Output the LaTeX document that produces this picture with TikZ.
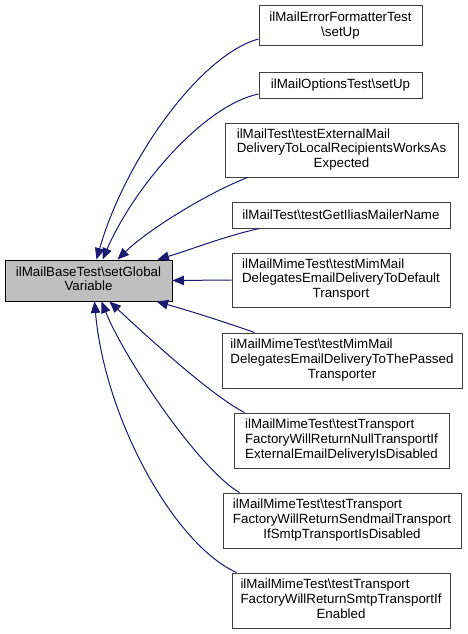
\documentclass[tikz,border=0pt]{standalone}
\usepackage{fontspec}
\setmainfont{Liberation Sans}
\usetikzlibrary{arrows.meta,calc}
\definecolor{edgeblue}{HTML}{191970}
\definecolor{boxline}{HTML}{404040}
\definecolor{mainfill}{HTML}{BFBFBF}
\newcommand{\bs}{\textbackslash}
\newcommand{\lns}[2]{\begin{tabular}{@{}l@{}}#1\\\multicolumn{1}{@{}c@{}}{#2}\end{tabular}}
\begin{document}
\begin{tikzpicture}[x=1pt,y=-1pt,
  box/.style={draw=boxline, line width=1pt, fill=white, inner sep=0pt,
    font=\fontsize{13.33}{14.7}\selectfont, align=center},
  mainbox/.style={box, draw=black, fill=mainfill},
  edge/.style={draw=edgeblue, line width=1pt, -{Triangle[length=11.5pt,width=9.5pt]}}]
\useasboundingbox (0,0) rectangle (468,634);

\node[mainbox, minimum width=167pt, minimum height=41pt] (main) at (88.5,280.5)
  {\lns{ilMailBaseTest\bs setGlobal}{Variable}};

\node[box, minimum width=163pt, minimum height=40pt] (c1) at (340.5,26)
  {\lns{ilMailErrorFormatterTest}{\bs setUp}};
\node[box, minimum width=163pt, minimum height=26pt] (c2) at (340.5,85)
  {ilMailOptionsTest\bs setUp};
\node[box, minimum width=233pt, minimum height=54pt] (c3) at (341.5,150)
  {\lns{ilMailTest\bs testExternalMail\\DeliveryToLocalRecipientsWorksAs}{Expected}};
\node[box, minimum width=218pt, minimum height=26pt] (c4) at (341,215)
  {ilMailTest\bs testGetIliasMailerName};
\node[box, minimum width=218pt, minimum height=54pt] (c5) at (341,280)
  {\lns{ilMailMimeTest\bs testMimMail\\DelegatesEmailDeliveryToDefault}{Transport}};
\node[box, minimum width=240pt, minimum height=55pt] (c6) at (342,360.5)
  {\lns{ilMailMimeTest\bs testMimMail\\DelegatesEmailDeliveryToThePassed}{Transporter}};
\node[box, minimum width=215pt, minimum height=55pt] (c7) at (341.5,440.5)
  {\lns{ilMailMimeTest\bs testTransport\\FactoryWillReturnNullTransportIf}{ExternalEmailDeliveryIsDisabled}};
\node[box, minimum width=238pt, minimum height=55pt] (c8) at (342,520.5)
  {\lns{ilMailMimeTest\bs testTransport\\FactoryWillReturnSendmailTransport}{IfSmtpTransportIsDisabled}};
\node[box, minimum width=218pt, minimum height=55pt] (c9) at (341,600.5)
  {\lns{ilMailMimeTest\bs testTransport\\FactoryWillReturnSmtpTransportIf}{Enabled}};

\draw[edge] ($(c1.west)+(0,13)$) .. controls (200,55) and (125,160) .. ($(main.north west)+(92,0)$);
\draw[edge] ($(c2.west)+(0,9)$) .. controls (205,105) and (135,185) .. ($(main.north west)+(98,0)$);
\draw[edge] ($(c3.south west)+(23,0)$) .. controls (210,192) and (150,228) .. ($(main.north west)+(113,0)$);
\draw[edge] ($(c4.south west)+(28,0)$) .. controls (225,236) and (190,250) .. ($(main.north west)+(153,0)$);
\draw[edge] (c5.west) -- (main.east);
\draw[edge] ($(c6.north west)+(33,0)$) .. controls (225,322) and (190,311) .. ($(main.south west)+(152,0)$);
\draw[edge] ($(c7.north west)+(11,0)$) .. controls (210,395) and (140,330) .. ($(main.south west)+(105,0)$);
\draw[edge] ($(c8.north west)+(17,0)$) .. controls (200,470) and (125,360) .. ($(main.south west)+(97,0)$);
\draw[edge] ($(c9.north west)+(5,0)$) .. controls (175,545) and (105,420) .. ($(main.south west)+(90,0)$);
\end{tikzpicture}
\end{document}
